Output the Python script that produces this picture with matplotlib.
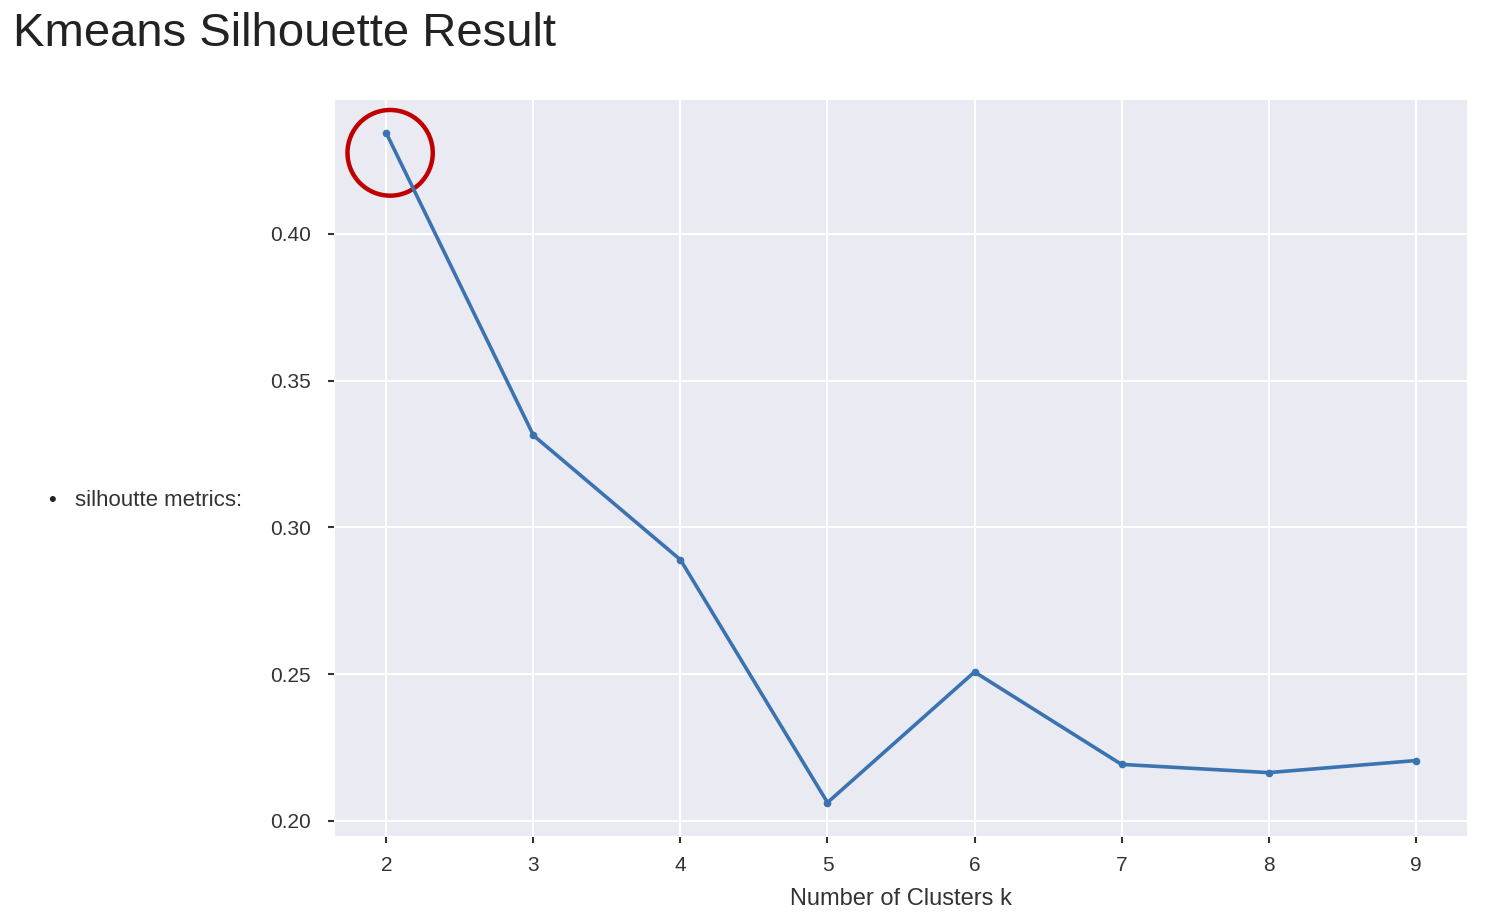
import matplotlib
matplotlib.use("Agg")
import matplotlib.pyplot as plt
from matplotlib.patches import Ellipse

# silhouette score per number of clusters
k_values = [2, 3, 4, 5, 6, 7, 8, 9]
silhouette = [0.4342, 0.3313, 0.2889, 0.2062, 0.2507, 0.2192, 0.2164, 0.2205]

plt.rcParams['font.family'] = ['Liberation Sans', 'DejaVu Sans']

fig = plt.figure(figsize=(14.92, 9.13), dpi=100)
ax = fig.add_axes([335 / 1492, 1 - 836 / 913, (1467 - 335) / 1492, (836 - 100) / 913])
ax.set_facecolor('#eaeaf2')
ax.grid(True, color='white', linewidth=1.5)
ax.set_axisbelow(True)
for side in ax.spines:
    ax.spines[side].set_visible(False)
ax.spines['left'].set_position(('outward', 1))
ax.spines['bottom'].set_position(('outward', 1))

ax.plot(k_values, silhouette, color='#3b73b0', linewidth=2.6, marker='o', markersize=4.5)

ax.set_yticks([0.20, 0.25, 0.30, 0.35, 0.40])
ax.set_yticklabels(['0.20', '0.25', '0.30', '0.35', '0.40'])
ax.tick_params(axis='both', labelsize=15, colors='#333333', length=4.5, width=1.5)
ax.tick_params(axis='y', pad=12)
ax.tick_params(axis='x', pad=9)
ax.set_xlabel('Number of Clusters k', fontsize=17, color='#333333', labelpad=9)

# highlight the best k
circle = Ellipse((k_values[0] + 0.025, silhouette[0] - 0.0066), width=0.58, height=0.0292,
                 transform=ax.transData, fill=False, edgecolor='#c00000', linewidth=3.2,
                 clip_on=False)
ax.add_patch(circle)

fig.text(13 / 1492, 1 - 34 / 913, 'Kmeans Silhouette Result', fontsize=34, color='#222222',
         va='center', ha='left')
fig.text(48 / 1492, 1 - 501 / 913, '\u2022', fontsize=16, color='#222222', va='center')
fig.text(75 / 1492, 1 - 501 / 913, 'silhoutte metrics:', fontsize=16, color='#333333', va='center')

fig.savefig('out.png', dpi=100)
